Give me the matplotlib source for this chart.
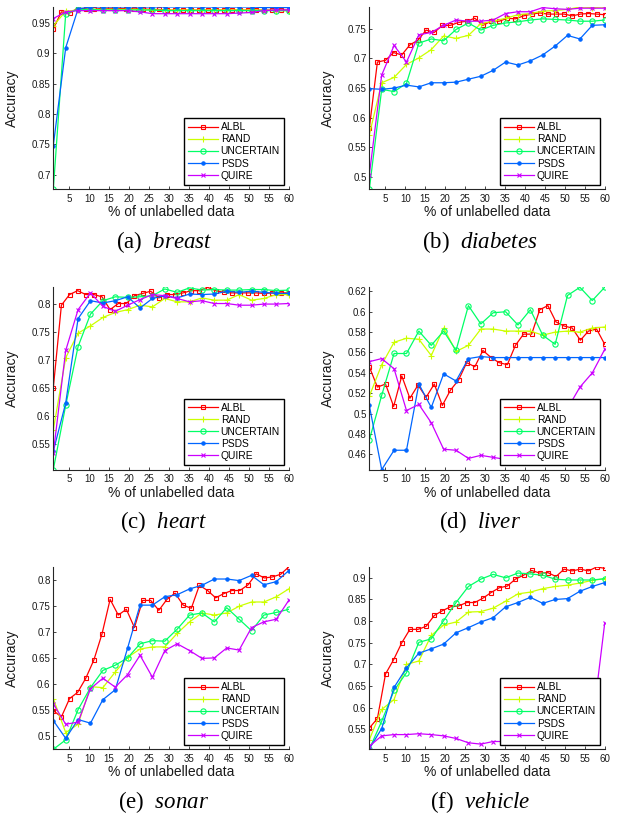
import matplotlib
matplotlib.use('Agg')
import matplotlib.pyplot as plt
from matplotlib.ticker import FuncFormatter

plt.rcParams['font.family'] = 'Liberation Sans'
plt.rcParams['mathtext.fontset'] = 'custom'
plt.rcParams['mathtext.rm'] = 'Liberation Serif'
plt.rcParams['mathtext.it'] = 'Liberation Serif:italic'

# x positions (% of unlabelled data): ALBL has 30 points, the others 20
pct30 = [1.0, 3.03, 5.07, 7.10, 9.14, 11.17, 13.21, 15.24, 17.28, 19.31,
         21.34, 23.38, 25.41, 27.45, 29.48, 31.52, 33.55, 35.59, 37.62, 39.66,
         41.69, 43.72, 45.76, 47.79, 49.83, 51.86, 53.90, 55.93, 57.97, 60.0]
pct20 = [1.0, 4.11, 7.21, 10.32, 13.42, 16.53, 19.63, 22.74, 25.84, 28.95,
         32.05, 35.16, 38.26, 41.37, 44.47, 47.58, 50.68, 53.79, 56.89, 60.0]

# (a) breast
breast_albl = [0.940, 0.968, 0.966, 0.974, 0.973, 0.972, 0.974, 0.974, 0.974, 0.973,
               0.973, 0.973, 0.972, 0.972, 0.971, 0.971, 0.971, 0.971, 0.971, 0.971,
               0.971, 0.971, 0.971, 0.971, 0.971, 0.971, 0.971, 0.971, 0.971, 0.971]
breast_rand = [0.945, 0.969, 0.971, 0.972, 0.972, 0.972, 0.972, 0.972, 0.971, 0.971,
               0.971, 0.971, 0.971, 0.971, 0.971, 0.971, 0.971, 0.971, 0.970, 0.970]
breast_unc = [0.676, 0.965, 0.972, 0.972, 0.971, 0.971, 0.971, 0.971, 0.971, 0.970,
              0.970, 0.970, 0.970, 0.970, 0.970, 0.970, 0.970, 0.970, 0.970, 0.970]
breast_psds = [0.748, 0.909, 0.973, 0.976, 0.976, 0.976, 0.976, 0.976, 0.976, 0.976,
               0.976, 0.976, 0.976, 0.976, 0.976, 0.976, 0.976, 0.975, 0.975, 0.975]
breast_quire = [0.957, 0.968, 0.970, 0.970, 0.970, 0.970, 0.970, 0.968, 0.965, 0.965,
                0.965, 0.965, 0.965, 0.965, 0.965, 0.966, 0.967, 0.970, 0.971, 0.971]

# (b) diabetes
diab_albl = [0.582, 0.694, 0.697, 0.710, 0.706, 0.723, 0.731, 0.748, 0.744, 0.756,
             0.756, 0.761, 0.763, 0.768, 0.756, 0.763, 0.763, 0.768, 0.767, 0.772,
             0.775, 0.777, 0.775, 0.775, 0.775, 0.772, 0.775, 0.776, 0.775, 0.774]
diab_rand = [0.571, 0.659, 0.668, 0.690, 0.701, 0.715, 0.738, 0.734, 0.739, 0.759,
             0.763, 0.768, 0.774, 0.776, 0.780, 0.781, 0.783, 0.787, 0.786, 0.787]
diab_unc = [0.479, 0.648, 0.644, 0.658, 0.726, 0.733, 0.730, 0.749, 0.760, 0.748,
            0.756, 0.760, 0.762, 0.765, 0.767, 0.766, 0.765, 0.763, 0.763, 0.765]
diab_psds = [0.649, 0.648, 0.650, 0.655, 0.652, 0.659, 0.659, 0.660, 0.665, 0.670,
             0.680, 0.694, 0.689, 0.696, 0.706, 0.721, 0.739, 0.733, 0.756, 0.757]
diab_quire = [0.503, 0.672, 0.722, 0.694, 0.740, 0.744, 0.756, 0.765, 0.763, 0.763,
              0.765, 0.776, 0.779, 0.779, 0.786, 0.784, 0.783, 0.785, 0.785, 0.785]

# (c) heart
heart_albl = [0.650, 0.798, 0.817, 0.824, 0.817, 0.817, 0.813, 0.790, 0.801, 0.801,
              0.815, 0.819, 0.823, 0.811, 0.817, 0.817, 0.820, 0.824, 0.824, 0.830,
              0.824, 0.821, 0.820, 0.820, 0.820, 0.820, 0.819, 0.820, 0.820, 0.820]
heart_rand = [0.575, 0.704, 0.748, 0.761, 0.776, 0.785, 0.790, 0.798, 0.795, 0.810,
              0.804, 0.804, 0.811, 0.807, 0.807, 0.817, 0.807, 0.810, 0.817, 0.817]
heart_unc = [0.504, 0.619, 0.724, 0.782, 0.806, 0.813, 0.812, 0.813, 0.815, 0.827,
             0.821, 0.829, 0.825, 0.826, 0.825, 0.825, 0.826, 0.826, 0.824, 0.825]
heart_psds = [0.537, 0.623, 0.774, 0.806, 0.802, 0.806, 0.813, 0.793, 0.810, 0.815,
              0.811, 0.818, 0.817, 0.818, 0.823, 0.821, 0.823, 0.821, 0.819, 0.819]
heart_quire = [0.533, 0.717, 0.790, 0.820, 0.796, 0.787, 0.798, 0.808, 0.817, 0.815,
               0.810, 0.804, 0.806, 0.801, 0.801, 0.798, 0.798, 0.800, 0.800, 0.801]

# (d) liver
liver_albl = [0.546, 0.526, 0.529, 0.507, 0.537, 0.515, 0.528, 0.516, 0.529, 0.508,
              0.523, 0.533, 0.550, 0.546, 0.562, 0.555, 0.550, 0.548, 0.567, 0.578,
              0.578, 0.602, 0.606, 0.590, 0.586, 0.584, 0.572, 0.581, 0.583, 0.568]
liver_rand = [0.517, 0.548, 0.570, 0.574, 0.573, 0.557, 0.584, 0.561, 0.567, 0.583,
              0.583, 0.581, 0.581, 0.581, 0.577, 0.580, 0.581, 0.580, 0.584, 0.585]
liver_unc = [0.474, 0.518, 0.559, 0.559, 0.581, 0.567, 0.581, 0.562, 0.606, 0.588,
             0.599, 0.600, 0.587, 0.602, 0.577, 0.568, 0.616, 0.624, 0.611, 0.624]
liver_psds = [0.508, 0.445, 0.464, 0.464, 0.529, 0.506, 0.539, 0.532, 0.554, 0.556,
              0.555, 0.555, 0.555, 0.555, 0.555, 0.555, 0.555, 0.555, 0.555, 0.555]
liver_quire = [0.551, 0.554, 0.544, 0.503, 0.509, 0.491, 0.465, 0.464, 0.456, 0.459,
               0.457, 0.455, 0.457, 0.462, 0.475, 0.490, 0.505, 0.526, 0.540, 0.563]

# (e) sonar
sonar_albl = [0.549, 0.537, 0.572, 0.584, 0.611, 0.646, 0.696, 0.762, 0.732, 0.743,
              0.708, 0.760, 0.760, 0.741, 0.762, 0.774, 0.751, 0.745, 0.789, 0.779,
              0.765, 0.773, 0.779, 0.779, 0.790, 0.811, 0.803, 0.805, 0.810, 0.824]
sonar_rand = [0.572, 0.507, 0.523, 0.595, 0.593, 0.623, 0.651, 0.667, 0.671, 0.671,
              0.697, 0.719, 0.736, 0.732, 0.736, 0.749, 0.757, 0.757, 0.767, 0.782]
sonar_unc = [0.475, 0.493, 0.551, 0.593, 0.626, 0.636, 0.650, 0.677, 0.683, 0.682,
             0.705, 0.732, 0.736, 0.719, 0.746, 0.724, 0.702, 0.732, 0.737, 0.743]
sonar_psds = [0.530, 0.496, 0.532, 0.525, 0.570, 0.589, 0.669, 0.751, 0.751, 0.767,
              0.771, 0.782, 0.789, 0.801, 0.801, 0.798, 0.808, 0.790, 0.796, 0.817]
sonar_quire = [0.562, 0.523, 0.527, 0.591, 0.611, 0.594, 0.618, 0.655, 0.613, 0.664,
               0.677, 0.664, 0.649, 0.650, 0.669, 0.665, 0.708, 0.719, 0.724, 0.760]

# (f) vehicle
veh_albl = [0.553, 0.575, 0.678, 0.711, 0.750, 0.781, 0.781, 0.788, 0.813, 0.824,
            0.833, 0.835, 0.843, 0.843, 0.853, 0.866, 0.877, 0.881, 0.897, 0.906,
            0.917, 0.911, 0.912, 0.903, 0.920, 0.916, 0.920, 0.916, 0.925, 0.922]
veh_rand = [0.526, 0.596, 0.619, 0.700, 0.708, 0.767, 0.791, 0.798, 0.821, 0.822,
            0.830, 0.846, 0.863, 0.867, 0.875, 0.880, 0.883, 0.888, 0.894, 0.898]
veh_unc = [0.504, 0.569, 0.640, 0.681, 0.751, 0.759, 0.801, 0.843, 0.880, 0.897,
           0.908, 0.900, 0.911, 0.909, 0.906, 0.897, 0.895, 0.895, 0.895, 0.898]
veh_psds = [0.505, 0.552, 0.647, 0.692, 0.726, 0.736, 0.747, 0.773, 0.785, 0.798,
            0.808, 0.833, 0.843, 0.855, 0.841, 0.850, 0.852, 0.869, 0.880, 0.889]
veh_quire = [0.511, 0.535, 0.538, 0.538, 0.540, 0.538, 0.535, 0.529, 0.519, 0.516,
             0.522, 0.522, 0.524, 0.526, 0.528, 0.530, 0.532, 0.535, 0.560, 0.795]

methods = ['ALBL', 'RAND', 'UNCERTAIN', 'PSDS', 'QUIRE']
colors = [(1, 0, 0), (0.8, 1, 0), (0, 1, 0.4), (0, 0.4, 1), (0.8, 0, 1)]
markers = ['s', '+', 'o', '.', 'x']
msizes = [3.4, 4.0, 3.8, 4.8, 3.2]

panels = [
    ('(a)', 'breast', [breast_albl, breast_rand, breast_unc, breast_psds, breast_quire],
     [0.7, 0.75, 0.8, 0.85, 0.9, 0.95]),
    ('(b)', 'diabetes', [diab_albl, diab_rand, diab_unc, diab_psds, diab_quire],
     [0.5, 0.55, 0.6, 0.65, 0.7, 0.75]),
    ('(c)', 'heart', [heart_albl, heart_rand, heart_unc, heart_psds, heart_quire],
     [0.55, 0.6, 0.65, 0.7, 0.75, 0.8]),
    ('(d)', 'liver', [liver_albl, liver_rand, liver_unc, liver_psds, liver_quire],
     [0.46, 0.48, 0.5, 0.52, 0.54, 0.56, 0.58, 0.6, 0.62]),
    ('(e)', 'sonar', [sonar_albl, sonar_rand, sonar_unc, sonar_psds, sonar_quire],
     [0.5, 0.55, 0.6, 0.65, 0.7, 0.75, 0.8]),
    ('(f)', 'vehicle', [veh_albl, veh_rand, veh_unc, veh_psds, veh_quire],
     [0.55, 0.6, 0.65, 0.7, 0.75, 0.8, 0.85, 0.9]),
]

W, H = 624, 816
fig = plt.figure(figsize=(W / 100, H / 100), dpi=100)

# axes boxes in pixels: left, top
lefts = [53.3, 369.3]
tops = [7, 287.3, 567]
aw, ah = 235.4, 182.3
cap_x = [164, 480]
cap_y = [242, 522, 802]

for k, (tag, name, series, yt) in enumerate(panels):
    r, c = divmod(k, 2)
    ax = fig.add_axes([lefts[c] / W, 1 - (tops[r] + ah) / H, aw / W, ah / H])
    for j, ys in enumerate(series):
        xs = pct30 if j == 0 else pct20
        mfc = 'none' if markers[j] in ('s', 'o') else colors[j]
        ax.plot(xs, ys, color=colors[j], marker=markers[j], ms=msizes[j],
                mfc=mfc, mec=colors[j], mew=0.8, lw=0.9, label=methods[j])
    allv = [v for s in series for v in s]
    ax.set_xlim(1, 60)
    ax.set_ylim(min(allv), max(allv))
    ax.set_xticks(range(5, 61, 5))
    ax.set_yticks(yt)
    ax.yaxis.set_major_formatter(FuncFormatter(lambda v, p: '%g' % round(v, 4)))
    for s in ('top', 'right'):
        ax.spines[s].set_visible(False)
    for s in ('left', 'bottom'):
        ax.spines[s].set_color('0.15')
        ax.spines[s].set_linewidth(0.8)
    ax.tick_params(direction='in', length=2.5, width=0.6, color='0.15',
                   labelsize=7.0, labelcolor='0.1')
    ax.tick_params(axis='x', pad=3.5)
    ax.tick_params(axis='y', pad=2)
    ax.set_ylabel('Accuracy', fontsize=10, color='0.1')
    ax.yaxis.set_label_coords(-0.145, 0.5)
    ax.set_xlabel('% of unlabelled data', fontsize=10, color='0.1', va='center')
    ax.xaxis.set_label_coords(0.5, -0.126)
    leg = ax.legend(loc='lower right', fontsize=7.4, frameon=True, fancybox=False,
                    edgecolor='black', framealpha=1, borderpad=0.4,
                    handlelength=2.9, handletextpad=0.25, labelspacing=0.2,
                    borderaxespad=0.45, numpoints=1)
    leg.get_frame().set_linewidth(1.0)
    fig.text(cap_x[c] / W, 1 - cap_y[r] / H, tag + r'  $\mathit{' + name + '}$',
             family='Liberation Serif', fontsize=16.5, ha='center', va='center')

fig.savefig('out.png', dpi=100, facecolor='white')
